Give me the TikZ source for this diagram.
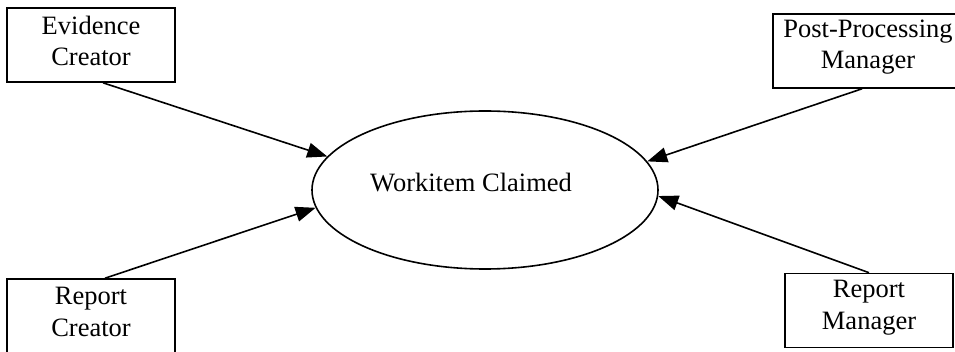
\documentclass[tikz,border=0pt]{standalone}
\usepackage{fontspec}
\setmainfont{Liberation Serif}
\usetikzlibrary{arrows.meta,shapes.geometric}
\begin{document}
\begin{tikzpicture}[x=1pt,y=-1pt,
  actor/.style={draw,line width=1.6pt,minimum width=168pt,minimum height=74pt,inner sep=0pt},
  usecase/.style={draw,ellipse,line width=1.6pt,minimum width=346pt,minimum height=158pt,inner sep=0pt},
  lbl/.style={inner sep=0pt,align=center,font=\fontsize{26.5}{31.5}\selectfont},
  flow/.style={line width=1.6pt,-{Triangle[length=20pt,width=15pt]}}]
\useasboundingbox (0,0) rectangle (955,352);
\node[actor] (ec) at (91,45) {};
\node[actor,minimum width=190pt] (ppm) at (868,51) {};
\node[actor] (rc) at (91,316) {};
\node[actor] (rm) at (869,310.5) {};
\node[lbl,yshift=4pt] (ect) at (ec) {Evidence\\Creator};
\node[lbl,yshift=4pt] (ppmt) at (ppm) {Post-Processing\\Manager};
\node[lbl,yshift=4pt] (rct) at (rc) {Report\\Creator};
\node[lbl,yshift=3pt] (rmt) at (rm) {Report\\Manager};
\node[usecase] (wc) at (485,190) {};
\node[lbl] (wct) at (471,183) {Workitem Claimed};
\draw[flow] ([xshift=12pt]ec.south) -- (wc.168);
\draw[flow] ([xshift=14pt]rc.north) -- (wc.186);
\draw[flow] ([xshift=-6pt]ppm.south) -- (wc.10.5);
\draw[flow] (rm.north) -- (wc.-2.7);
\end{tikzpicture}
\end{document}
